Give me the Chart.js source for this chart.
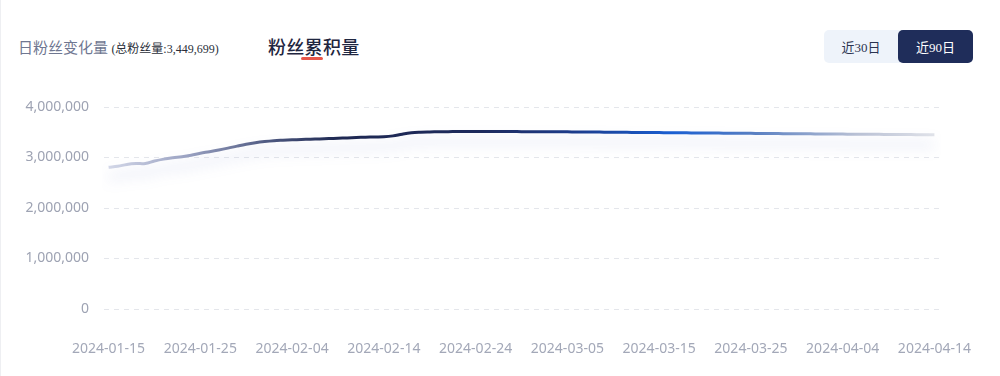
<!DOCTYPE html>
<html>
<head>
<meta charset="utf-8">
<script src="https://cdn.jsdelivr.net/npm/chart.js@4/dist/chart.umd.min.js"></script>
<style>
    html, body { margin: 0; padding: 0; background: #fff; }
    .card { position: relative; width: 1000px; height: 376px; overflow: hidden; border-left: 1px solid #eeeff2; box-sizing: border-box; }
    .sub-title { position: absolute; left: 17px; top: 36px; font: 15px "Noto Sans CJK SC", sans-serif; color: #6f7791; white-space: nowrap; }
    .sub-title small { font: 12px "Liberation Serif", "Noto Sans CJK SC", serif; color: #2b2f3a; margin-left: 0; }
    .main-title { position: absolute; left: 267px; top: 33px; font: 500 18px "Noto Sans CJK SC", sans-serif; color: #1f2640; letter-spacing: 0.3px; }
    .main-title i { position: absolute; left: 33px; top: 24px; width: 22px; height: 3px; border-radius: 2px; background: #e8574a; }
    .tabs { position: absolute; left: 823px; top: 30px; width: 149px; height: 33px; background: #eef3fa; border-radius: 5px; }
    .tabs span { position: absolute; top: 0; height: 33px; display: flex; align-items: center; justify-content: center; font: 13px "Liberation Serif", "Noto Sans CJK SC", serif; color: #2b3350; }
    .tabs .t30 { left: 0; width: 74px; }
    .tabs .t90 { left: 74px; width: 75px; background: #1f2d5a; color: #fff; border-radius: 5px; }
    canvas { position: absolute; left: 0; top: 0; }
</style>
</head>
<body>
<div class="card">
    <div class="sub-title">日粉丝变化量 <small>(总粉丝量:3,449,699)</small></div>
    <div class="main-title">粉丝累积量<i></i></div>
    <div class="tabs"><span class="t30">近30日</span><span class="t90">近90日</span></div>
    <canvas id="fansChart" width="1000" height="376"></canvas>
</div>
<script>
    // cumulative fans, one value per day from 2024-01-15
    var fansTotal = [
        2805000, 2825000, 2862000, 2880000, 2882000, 2930000, 2968000, 2995000, 3015000, 3045000,
        3085000, 3115000, 3148000, 3185000, 3225000, 3262000, 3292000, 3315000, 3332000, 3342000,
        3350000, 3356000, 3362000, 3368000, 3374000, 3380000, 3388000, 3396000, 3402000, 3406000,
        3410000, 3428000, 3462000, 3488000, 3500000, 3506000, 3510000, 3512000, 3513000, 3514000,
        3514000, 3514000, 3514000, 3513000, 3513000, 3512000, 3512000, 3511000, 3510000, 3509000,
        3508000, 3506000, 3505000, 3503000, 3502000, 3500000, 3499000, 3497000, 3496000, 3494000,
        3493000, 3491000, 3490000, 3488000, 3487000, 3485000, 3484000, 3482000, 3481000, 3479000,
        3478000, 3476000, 3475000, 3473000, 3472000, 3470000, 3469000, 3467000, 3466000, 3464000,
        3463000, 3462000, 3460000, 3459000, 3458000, 3456000, 3455000, 3454000, 3452000, 3451000,
        3449699
    ];

    var tickLabels = ['2024-01-15', '2024-01-25', '2024-02-04', '2024-02-14', '2024-02-24',
        '2024-03-05', '2024-03-15', '2024-03-25', '2024-04-04', '2024-04-14'];

    var yTicks = [0, 1000000, 2000000, 3000000, 4000000];

    // daily categories
    var days = [];
    var d = new Date(Date.UTC(2024, 0, 15));
    for (var i = 0; i < fansTotal.length; i++) {
        days.push(d.toISOString().slice(0, 10));
        d.setUTCDate(d.getUTCDate() + 1);
    }

    // line gradient
    function lineColor(context) {
        var area = context.chart.chartArea;
        if (!area) return '#1f2a55';
        var g = context.chart.ctx.createLinearGradient(area.left, 0, area.right, 0);
        g.addColorStop(0, '#d6daea');
        g.addColorStop(0.1, '#9aa2c2');
        g.addColorStop(0.2, '#4c577f');
        g.addColorStop(0.28, '#1e2852');
        g.addColorStop(0.45, '#1d2a5c');
        g.addColorStop(0.56, '#1c3b8a');
        g.addColorStop(0.68, '#1a5fd2');
        g.addColorStop(0.78, '#5a80c2');
        g.addColorStop(0.9, '#b8c0d4');
        g.addColorStop(1, '#e2e4ea');
        return g;
    }

    // soft glow under the line
    var glow = {
        id: 'glow',
        beforeDatasetDraw: function (chart) {
            var ctx = chart.ctx;
            ctx.save();
            ctx.shadowColor = 'rgba(80, 100, 190, 0.25)';
            ctx.shadowBlur = 14;
            ctx.shadowOffsetY = 10;
        },
        afterDatasetDraw: function (chart) {
            chart.ctx.restore();
        }
    };

    var ctx = document.getElementById('fansChart');
    var chart = new Chart(ctx, {
        type: 'line',
        data: {
            labels: days,
            datasets: [{
                data: fansTotal,
                borderColor: lineColor,
                borderWidth: 3,
                pointRadius: 0,
                tension: 0.4,
                fill: false
            }]
        },
        options: {
            responsive: false,
            animation: false,
            layout: { padding: { left: 0, right: 62, top: 107, bottom: 0 } },
            plugins: { legend: { display: false }, tooltip: { enabled: false } },
            scales: {
                x: {
                    offset: true,
                    grid: { display: false },
                    border: { display: false },
                    ticks: {
                        autoSkip: false,
                        maxRotation: 0,
                        padding: 24,
                        color: '#a3a8b8',
                        font: { family: 'Noto Sans', size: 14 },
                        callback: function (v, i) {
                            return i % 10 === 0 ? tickLabels[i / 10] : '';
                        }
                    },
                    afterFit: function (s) { s.height = 376 - 309; }
                },
                y: {
                    min: yTicks[0],
                    max: yTicks[yTicks.length - 1],
                    afterBuildTicks: function (s) {
                        s.ticks = yTicks.map(function (v) { return { value: v }; });
                    },
                    grid: { color: '#e4e6eb', drawTicks: false },
                    border: { display: false, dash: [5, 5] },
                    ticks: {
                        padding: 15,
                        color: '#9ea3b3',
                        font: { family: 'Noto Sans', size: 14 },
                        callback: function (v) { return v.toLocaleString('en-US'); }
                    },
                    afterFit: function (s) { s.width = 103; }
                }
            }
        },
        plugins: [glow]
    });
</script>
</body>
</html>
